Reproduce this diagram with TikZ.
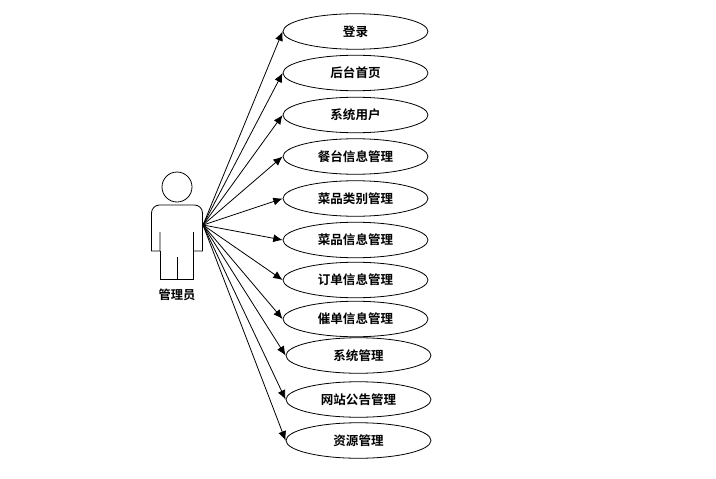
\documentclass[tikz,border=0pt]{standalone}
\usepackage{fontspec}
\setmainfont{Noto Sans CJK SC}[BoldFont={Noto Sans CJK SC Bold}]
\usetikzlibrary{arrows.meta,shapes.geometric}
\tikzset{
  usecase/.style={draw,semithick,ellipse,minimum width=145*0.75pt,minimum height=35.5*0.75pt,inner sep=0pt,font=\fontsize{9.4}{11}\selectfont\bfseries},
  assoc/.style={semithick,-{Latex[length=7pt,width=6pt]}}
}
\begin{document}
\begin{tikzpicture}[x=0.75pt,y=-0.75pt]
  \useasboundingbox (0,0) rectangle (716,478);
  % actor head and body
  \draw[semithick] (177,187) circle (15*0.75pt);
  \draw[semithick] (160,232) -- (160,251) -- (151.5,251) [rounded corners=6pt] -- (151.5,205) -- (202.5,205) [sharp corners] -- (202.5,251) -- (193.5,251) -- (193.5,232);
  % legs
  \draw[semithick] (160,251) -- (160,279) -- (193.5,279) -- (193.5,251);
  \draw[semithick] (177,257) -- (177,279);
  \node[font=\fontsize{9.2}{11}\selectfont\bfseries] (admin) at (177,295) {管理员};
  \coordinate (hand) at (203,225);
  % use cases
  \node[usecase] (login) at (355.5,31.5) {登录};
  \node[usecase] (home) at (355.5,73) {后台首页};
  \node[usecase] (users) at (355.5,115) {系统用户};
  \node[usecase] (tables) at (355.5,156.5) {餐台信息管理};
  \node[usecase] (types) at (355.5,198.5) {菜品类别管理};
  \node[usecase] (dishes) at (355.5,240) {菜品信息管理};
  \node[usecase] (orders) at (355.5,280) {订单信息管理};
  \node[usecase] (remind) at (355.5,319) {催单信息管理};
  \node[usecase] (system) at (358.5,355.5) {系统管理};
  \node[usecase] (notice) at (358.5,399.5) {网站公告管理};
  \node[usecase] (files) at (358.5,440.5) {资源管理};
  % associations
  \foreach \uc in {login,home,users,tables,types,dishes,orders,remind,system,notice,files}
    \draw[assoc] (hand) -- (\uc.west);
\end{tikzpicture}
\end{document}
